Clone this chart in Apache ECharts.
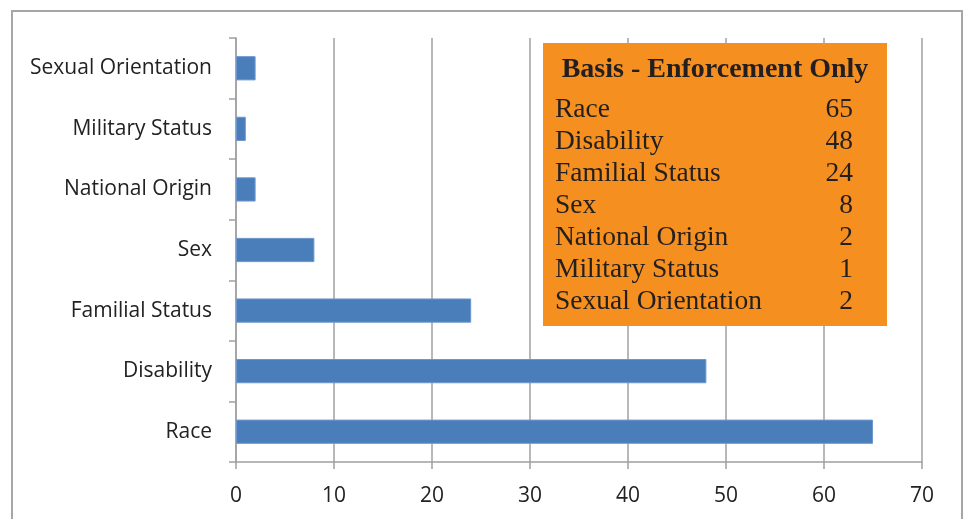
<!DOCTYPE html>
<html>
<head>
<meta charset="utf-8">
<script src="https://cdn.jsdelivr.net/npm/echarts@6/dist/echarts.min.js"></script>
<style>
    html, body { margin: 0; padding: 0; background: #fff; }
    #chart { width: 966px; height: 519px; }
</style>
</head>
<body>
<div id="chart"></div>
<script>
// bottom to top, as drawn
const categories = ['Race', 'Disability', 'Familial Status', 'Sex', 'National Origin', 'Military Status', 'Sexual Orientation'];
const counts = [65, 48, 24, 8, 2, 1, 2];
const xTicks = [0, 10, 20, 30, 40, 50, 60, 70];
const tableTitle = 'Basis - Enforcement Only';

const chart = echarts.init(document.getElementById('chart'));

// Orange summary box, rows built from the same data
const boxLeft = 543, boxTop = 43, boxWidth = 344, boxHeight = 283;
const rowFont = '27.5px "Liberation Serif"';
const rows = [];
categories.forEach((name, i) => {
    const y = boxTop + 67 + i * 32;
    rows.push({
        type: 'text', z: 101, x: boxLeft + 12, y: y,
        style: { text: name, font: rowFont, fill: '#231f20', verticalAlign: 'middle' }
    });
    rows.push({
        type: 'text', z: 101, x: boxLeft + boxWidth - 34, y: y,
        style: { text: String(counts[i]), font: rowFont, fill: '#231f20', align: 'right', verticalAlign: 'middle' }
    });
});

const option = {
    animation: false,
    grid: { left: 236, right: 44, top: 38, bottom: 57 },
    xAxis: {
        type: 'value',
        min: xTicks[0],
        max: xTicks[xTicks.length - 1],
        interval: 10,
        axisLine: { show: true, lineStyle: { color: '#a0a0a0', width: 1.5 } },
        axisTick: { show: true, length: 7, lineStyle: { color: '#a0a0a0', width: 1.5 } },
        axisLabel: { margin: 24, color: '#222', fontSize: 21, fontFamily: 'Open Sans' },
        splitLine: { show: true, lineStyle: { color: '#a0a0a0', width: 1.5 } }
    },
    yAxis: {
        type: 'category',
        data: categories,
        axisLine: { show: true, lineStyle: { color: '#a0a0a0', width: 1.5 } },
        axisTick: { show: true, length: 7, lineStyle: { color: '#a0a0a0', width: 1.5 } },
        axisLabel: { margin: 24, color: '#222', fontSize: 21, fontFamily: 'Open Sans' }
    },
    series: [{
        type: 'bar',
        data: counts,
        barCategoryGap: '60%',
        itemStyle: { color: '#4a7ebb', borderColor: '#6d97cc', borderWidth: 1 }
    }],
    graphic: [
        {
            type: 'rect', z: -1, silent: true,
            shape: { x: 12, y: 11, width: 950, height: 530 },
            style: { fill: 'none', stroke: '#a6a6a6', lineWidth: 2 }
        },
        {
            type: 'rect', z: 100,
            shape: { x: boxLeft, y: boxTop, width: boxWidth, height: boxHeight },
            style: { fill: '#f58f1f' }
        },
        {
            type: 'text', z: 101, x: boxLeft + boxWidth / 2, y: boxTop + 27,
            style: { text: tableTitle, font: 'bold 28px "Liberation Serif"', fill: '#231f20', align: 'center', verticalAlign: 'middle' }
        }
    ].concat(rows)
};

chart.setOption(option);
window.addEventListener('resize', () => chart.resize());
</script>
</body>
</html>
